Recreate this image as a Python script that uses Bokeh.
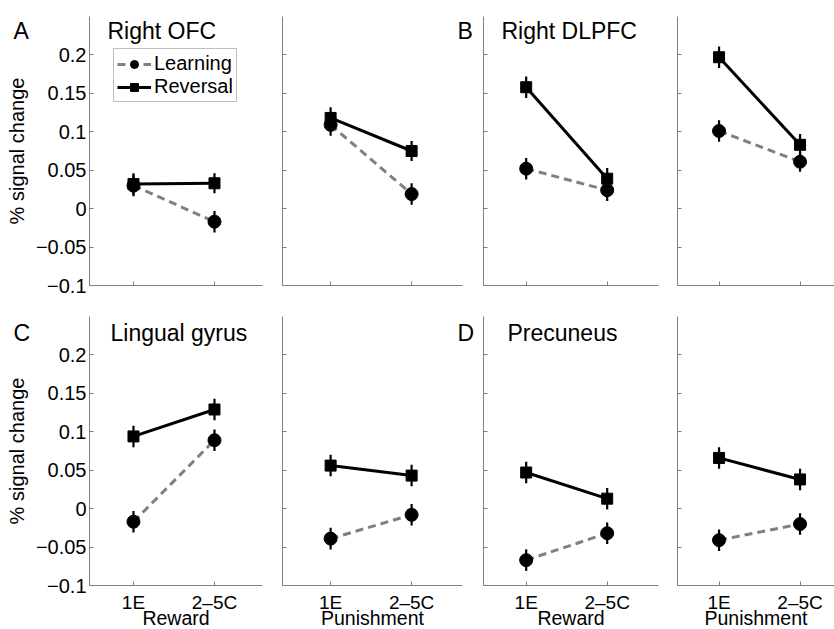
from bokeh.plotting import figure
from bokeh.layouts import column, row
from bokeh.models import (FixedTicker, Label, Legend, LegendItem, Range1d, ColumnDataSource,
                          CustomLabelingPolicy)
from bokeh.embed import file_html
from bokeh.resources import INLINE

FONT = "Liberation Sans"

# ---------------- data ----------------
stages = ["1E", "2–5C"]
stage_pos = [1, 2]
conditions = ["Reward", "Punishment"]
regions = ["Right OFC", "Right DLPFC", "Lingual gyrus", "Precuneus"]
letters = ["A", "B", "C", "D"]
series_names = ["Learning", "Reversal"]

y_ticks = [-0.1, -0.05, 0, 0.05, 0.1, 0.15, 0.2]
y_tick_labels = ["−0.1", "−0.05", "0", "0.05", "0.1", "0.15", "0.2"]

# values: [Reward 1E, Reward 2–5C, Punishment 1E, Punishment 2–5C]
ofc_learning = [0.030, -0.017, 0.109, 0.019]
ofc_reversal = [0.032, 0.033, 0.118, 0.075]
dlpfc_learning = [0.052, 0.024, 0.101, 0.061]
dlpfc_reversal = [0.158, 0.039, 0.197, 0.083]
lingual_learning = [-0.017, 0.089, -0.039, -0.008]
lingual_reversal = [0.094, 0.129, 0.056, 0.043]
precuneus_learning = [-0.067, -0.032, -0.041, -0.020]
precuneus_reversal = [0.047, 0.013, 0.066, 0.038]

ofc_learning_err = [0.014, 0.014, 0.014, 0.014]
ofc_reversal_err = [0.014, 0.013, 0.014, 0.013]
dlpfc_learning_err = [0.014, 0.014, 0.014, 0.013]
dlpfc_reversal_err = [0.014, 0.014, 0.014, 0.014]
lingual_learning_err = [0.014, 0.014, 0.014, 0.014]
lingual_reversal_err = [0.014, 0.014, 0.014, 0.014]
precuneus_learning_err = [0.014, 0.014, 0.014, 0.014]
precuneus_reversal_err = [0.014, 0.014, 0.014, 0.014]

learning_sets = [ofc_learning, dlpfc_learning, lingual_learning, precuneus_learning]
reversal_sets = [ofc_reversal, dlpfc_reversal, lingual_reversal, precuneus_reversal]
learning_errs = [ofc_learning_err, dlpfc_learning_err, lingual_learning_err, precuneus_learning_err]
reversal_errs = [ofc_reversal_err, dlpfc_reversal_err, lingual_reversal_err, precuneus_reversal_err]

# ---------------- layout (page pixels) ----------------
Y0, Y1 = -0.1, 0.25
YSCALE = 269 / (Y1 - Y0)            # px per data unit
XSCALE = 81.0
ROW_CANVAS = [(0, 300), (300, 629)]  # page y extent of each row
AXIS_BOTTOM = [285, 585]             # page y of x-axis lines
COL_CANVAS = [(0, 272), (272, 474), (474, 668), (668, 834)]
COL_LEFT = [89, 282, 483, 677]       # page x of y-axis lines
AXIS_W = [173, 180, 175, 157]
X_AXIS_START = [0.457, 0.406, 0.473, 0.487]

GRAY = "#808080"
HIDE = CustomLabelingPolicy(code="for (const i of indices) indices.unset(i); return indices;")


def xdata(c, page_x):
    return X_AXIS_START[c] + (page_x - COL_LEFT[c]) / XSCALE


def ydata(r, page_y):
    return Y0 + (AXIS_BOTTOM[r] - page_y) / YSCALE


def make_panel(r, c):
    region = 2 * r + (c // 2)
    cond = c % 2
    cl, cr = COL_CANVAS[c]
    ct, cb = ROW_CANVAS[r]
    p = figure(frame_width=cr - cl, frame_height=cb - ct,
               x_range=Range1d(xdata(c, cl), xdata(c, cr)),
               y_range=Range1d(ydata(r, cb), ydata(r, ct)),
               output_backend="svg", toolbar_location=None, tools="",
               min_border_left=0, min_border_right=0,
               min_border_top=0, min_border_bottom=0)
    p.outline_line_color = None
    p.xgrid.grid_line_color = None
    p.ygrid.grid_line_color = None
    p.background_fill_color = "white"
    p.border_fill_color = "white"

    xa, ya = p.xaxis[0], p.yaxis[0]
    for ax in (xa, ya):
        ax.axis_line_color = GRAY
        ax.axis_line_width = 1
        ax.major_tick_line_color = GRAY
        ax.major_tick_in = 4
        ax.major_tick_out = 0
        ax.minor_tick_line_color = None
        ax.major_label_text_font = FONT
        ax.major_label_text_color = "black"
        ax.axis_label_text_font = FONT
        ax.axis_label_text_font_style = "normal"
        ax.axis_label_text_color = "black"
    ya.major_label_text_font_size = "20px"
    ya.axis_label_text_font_size = "20px"
    xa.major_label_text_font_size = "19px"
    xa.axis_label_text_font_size = "19.5px"

    ya.fixed_location = X_AXIS_START[c]
    ya.bounds = (Y0, Y1)
    ya.ticker = FixedTicker(ticks=y_ticks)
    ya.major_label_overrides = {t: l for t, l in zip(y_ticks, y_tick_labels)}
    xa.fixed_location = Y0
    xa.bounds = (X_AXIS_START[c], X_AXIS_START[c] + AXIS_W[c] / XSCALE)
    xa.ticker = FixedTicker(ticks=stage_pos)
    xa.major_label_overrides = {pos: s for pos, s in zip(stage_pos, stages)}

    if c == 0:
        ya.axis_label = "% signal change"
        ya.major_label_standoff = 3
        ya.axis_label_standoff = 5
    else:
        ya.major_label_policy = HIDE
    if r == 1:
        xa.axis_label = conditions[cond]
        xa.major_label_standoff = 6
        xa.axis_label_standoff = -9
    else:
        xa.major_label_policy = HIDE
        xa.major_label_standoff = 0

    sl = slice(2 * cond, 2 * cond + 2)
    lv = learning_sets[region][sl]
    rv = reversal_sets[region][sl]
    le = learning_errs[region][sl]
    re = reversal_errs[region][sl]
    src_l = ColumnDataSource(dict(x=stage_pos, y=lv,
                                  lo=[v - e for v, e in zip(lv, le)],
                                  hi=[v + e for v, e in zip(lv, le)]))
    src_r = ColumnDataSource(dict(x=stage_pos, y=rv,
                                  lo=[v - e for v, e in zip(rv, re)],
                                  hi=[v + e for v, e in zip(rv, re)]))

    l_line = p.line("x", "y", source=src_l, line_color=GRAY, line_width=3, line_dash="8 5")
    r_line = p.line("x", "y", source=src_r, line_color="black", line_width=3)
    p.segment(x0="x", y0="lo", x1="x", y1="hi", source=src_l, line_color="black", line_width=2.2)
    p.segment(x0="x", y0="lo", x1="x", y1="hi", source=src_r, line_color="black", line_width=2.2)
    l_mark = p.scatter("x", "y", source=src_l, marker="circle", size=13,
                       fill_color="black", line_color="black")
    r_mark = p.scatter("x", "y", source=src_r, marker="square", size=11,
                       fill_color="black", line_color="black")

    if r == 0 and c == 0:
        legend = Legend(items=[LegendItem(label=series_names[0], renderers=[l_line, l_mark]),
                               LegendItem(label=series_names[1], renderers=[r_line, r_mark])],
                        location=(113, ROW_CANVAS[0][1] - 102), label_text_font=FONT,
                        label_text_font_size="20px", label_text_color="black",
                        glyph_width=34, glyph_height=20, label_standoff=3, padding=3,
                        spacing=0, margin=0, border_line_color=GRAY, border_line_width=1,
                        background_fill_alpha=1.0)
        p.add_layout(legend)

    # panel titles (region name + letter)
    title_base = [30, 332.7][r]
    if cond == 0:
        title_x = [[107, 501], [110, 507]][r][c // 2]
        p.add_layout(Label(x=xdata(c, title_x), y=ydata(r, title_base), text=regions[region],
                           text_font=FONT, text_font_size="23px", text_baseline="alphabetic",
                           text_align="left", text_color="black"))
    if c == 0:
        p.add_layout(Label(x=xdata(c, 13), y=ydata(r, title_base), text=letters[2 * r],
                           text_font=FONT, text_font_size="23px", text_baseline="alphabetic",
                           text_align="left", text_color="black"))
    if c == 1:
        p.add_layout(Label(x=xdata(c, 457), y=ydata(r, title_base), text=letters[2 * r + 1],
                           text_font=FONT, text_font_size="23px", text_baseline="alphabetic",
                           text_align="left", text_color="black"))
    return p


rows = []
for r in range(2):
    rows.append(row(*[make_panel(r, c) for c in range(4)], spacing=0))
layout = column(*rows, spacing=0)

open("out.html", "w").write(file_html(layout, INLINE))
